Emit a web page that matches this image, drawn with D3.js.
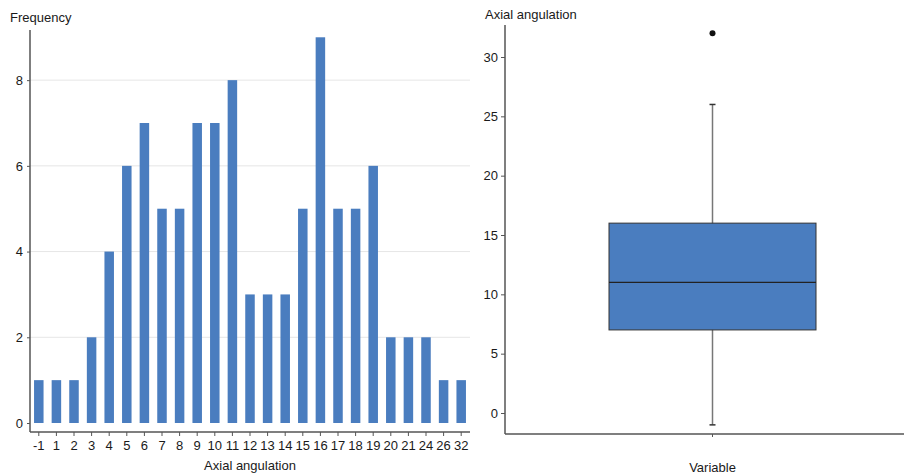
<!DOCTYPE html>
<html>
<head>
<meta charset="utf-8">
<script src="https://cdn.jsdelivr.net/npm/d3@7"></script>
<style>
  body { margin: 0; background: #fff; }
  svg { display: block; font-family: Arial, "Liberation Sans", sans-serif; }
  .tick text { font-size: 13px; fill: #1a1a1a; }
</style>
</head>
<body>
<svg width="904" height="475"></svg>
<script>
// histogram of axial angulation
const categories = ["-1","1","2","3","4","5","6","7","8","9","10","11","12","13","14","15","16","17","18","19","20","21","24","26","32"];
const frequencies = [1,1,1,2,4,6,7,5,5,7,7,8,3,3,3,5,9,5,5,6,2,2,2,1,1];
const freqTicks = [0,2,4,6,8];

// boxplot summary
const boxStats = { min: -1, q1: 7, median: 11, q3: 16, max: 26 };
const outliers = [32];
const boxTicks = [0,5,10,15,20,25,30];

const blue = "#4a7dbf";
const axisColor = "#555";

const svg = d3.select("svg");

// ---- left: bar chart ----
const left = svg.append("g");
const x = d3.scaleBand().domain(categories).range([30, 470]).paddingInner(0.46).paddingOuter(0.23);
const y = d3.scaleLinear().domain([0, 9.17]).range([423, 30]);

left.append("g")
  .selectAll("line")
  .data(freqTicks.filter(d => d > 0))
  .join("line")
  .attr("x1", 30).attr("x2", 470)
  .attr("y1", d => y(d)).attr("y2", d => y(d))
  .attr("stroke", "#e6e6e6");

left.append("g")
  .selectAll("rect")
  .data(frequencies)
  .join("rect")
  .attr("x", (d, i) => x(categories[i]))
  .attr("width", x.bandwidth())
  .attr("y", d => y(d))
  .attr("height", d => y(0) - y(d))
  .attr("fill", blue);

const yAxisL = left.append("g")
  .attr("transform", "translate(30,0)")
  .call(d3.axisLeft(y).tickValues(freqTicks).tickSize(3).tickPadding(4));
yAxisL.select(".domain").attr("d", `M0,${y(9.17)}V432`);

const xAxisL = left.append("g")
  .attr("transform", "translate(0,432)")
  .call(d3.axisBottom(x).tickSize(4).tickPadding(5));
xAxisL.select(".domain").attr("d", "M30,0H470");

[yAxisL, xAxisL].forEach(a => {
  a.select(".domain").attr("stroke", axisColor).attr("stroke-width", 1.5);
  a.selectAll(".tick line").attr("stroke", axisColor);
});

left.append("text").attr("x", 10).attr("y", 22)
  .attr("font-size", 13).attr("fill", "#1a1a1a").text("Frequency");
left.append("text").attr("x", 250).attr("y", 470).attr("text-anchor", "middle")
  .attr("font-size", 13).attr("fill", "#1a1a1a").text("Axial angulation");

// ---- right: boxplot ----
const right = svg.append("g");
const yb = d3.scaleLinear().domain([0, 30]).range([413, 57]);
const xb = d3.scaleBand().domain(["Variable"]).range([505, 920]).padding(0.5);
const cx = xb("Variable") + xb.bandwidth() / 2;
const boxW = 207;

right.append("line")
  .attr("x1", cx).attr("x2", cx)
  .attr("y1", yb(boxStats.max)).attr("y2", yb(boxStats.min))
  .attr("stroke", "#777").attr("stroke-width", 1.5);
[boxStats.max, boxStats.min].forEach(v => {
  right.append("line")
    .attr("x1", cx - 3).attr("x2", cx + 3)
    .attr("y1", yb(v)).attr("y2", yb(v))
    .attr("stroke", "#333").attr("stroke-width", 1.5);
});

right.append("rect")
  .attr("x", cx - boxW / 2).attr("width", boxW)
  .attr("y", yb(boxStats.q3)).attr("height", yb(boxStats.q1) - yb(boxStats.q3))
  .attr("fill", blue).attr("stroke", "#333").attr("stroke-width", 1);
right.append("line")
  .attr("x1", cx - boxW / 2).attr("x2", cx + boxW / 2)
  .attr("y1", yb(boxStats.median)).attr("y2", yb(boxStats.median))
  .attr("stroke", "#222").attr("stroke-width", 1.2);

right.selectAll("circle.out")
  .data(outliers)
  .join("circle")
  .attr("class", "out")
  .attr("cx", cx).attr("cy", d => yb(d)).attr("r", 3)
  .attr("fill", "#111");

const yAxisR = right.append("g")
  .attr("transform", "translate(505,0)")
  .call(d3.axisLeft(yb).tickValues(boxTicks).tickSize(4).tickPadding(3));
yAxisR.select(".domain").attr("d", "M0,25V434");

const xAxisR = right.append("g")
  .attr("transform", "translate(0,434)")
  .call(d3.axisBottom(xb).tickSize(3).tickFormat(""));
xAxisR.select(".domain").attr("d", "M505,0H904");

[yAxisR, xAxisR].forEach(a => {
  a.select(".domain").attr("stroke", axisColor).attr("stroke-width", 1.5);
  a.selectAll(".tick line").attr("stroke", axisColor);
});

right.append("text").attr("x", 485).attr("y", 19)
  .attr("font-size", 13).attr("fill", "#1a1a1a").text("Axial angulation");
right.append("text").attr("x", cx).attr("y", 472).attr("text-anchor", "middle")
  .attr("font-size", 13).attr("fill", "#1a1a1a").text("Variable");
</script>
</body>
</html>
